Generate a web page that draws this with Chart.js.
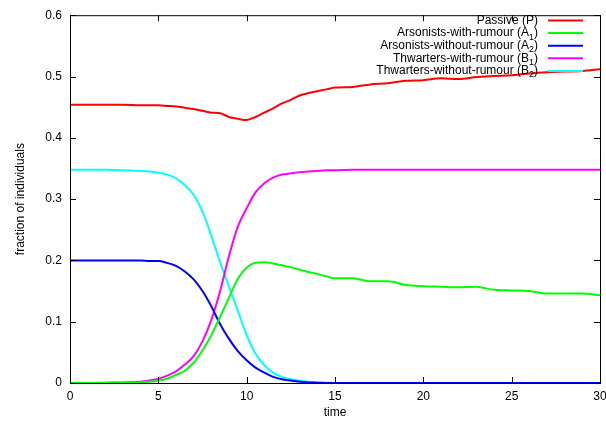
<!DOCTYPE html>
<html>
<head>
<meta charset="utf-8">
<script src="https://cdn.jsdelivr.net/npm/chart.js@4.4.1/dist/chart.umd.min.js"></script>
<style>
  html, body { margin: 0; padding: 0; background: #fff; }
  #wrap { width: 606px; height: 425px; }
</style>
</head>
<body>
<div id="wrap"><canvas id="rumourChart"></canvas></div>
<script>
// time points
const times = [0, 1, 2, 3, 4, 4.5, 5, 5.5, 6, 6.5, 7, 7.5, 8, 8.5, 9, 9.5, 10, 10.5, 11, 11.5,
  12, 12.5, 13, 13.5, 14, 14.5, 15, 16, 17, 18, 19, 20, 21, 22, 23, 24, 25, 26, 27, 28, 29, 30];

const passive = [0.454, 0.454, 0.454, 0.454, 0.453, 0.453, 0.453, 0.452, 0.451, 0.449, 0.447, 0.444,
  0.441, 0.440, 0.434, 0.431, 0.429, 0.434, 0.441, 0.448, 0.456, 0.462, 0.469, 0.473, 0.476, 0.479,
  0.482, 0.483, 0.487, 0.489, 0.493, 0.494, 0.497, 0.496, 0.499, 0.501, 0.502, 0.505, 0.507, 0.508,
  0.509, 0.512];
const arsonWith = [0, 0, 0, 0.0005, 0.001, 0.002, 0.004, 0.007, 0.013, 0.020, 0.033, 0.053, 0.078,
  0.108, 0.139, 0.170, 0.188, 0.196, 0.197, 0.195, 0.192, 0.189, 0.185, 0.181, 0.178, 0.174, 0.171,
  0.171, 0.166, 0.166, 0.160, 0.158, 0.157, 0.156, 0.157, 0.152, 0.151, 0.150, 0.146, 0.146, 0.146,
  0.143];
const arsonWithout = [0.200, 0.200, 0.200, 0.200, 0.200, 0.199, 0.199, 0.196, 0.191, 0.182, 0.169,
  0.150, 0.125, 0.096, 0.072, 0.052, 0.037, 0.025, 0.017, 0.010, 0.006, 0.004, 0.002, 0.001, 0.0005,
  0, 0, 0, 0, 0, 0, 0, 0, 0, 0, 0, 0, 0, 0, 0, 0, 0];
const thwartWith = [0, 0, 0.0005, 0.001, 0.002, 0.004, 0.007, 0.012, 0.019, 0.030, 0.044, 0.068,
  0.103, 0.150, 0.207, 0.255, 0.285, 0.311, 0.326, 0.335, 0.340, 0.342, 0.344, 0.345, 0.346, 0.347,
  0.347, 0.348, 0.348, 0.348, 0.348, 0.348, 0.348, 0.348, 0.348, 0.348, 0.348, 0.348, 0.348, 0.348,
  0.348, 0.348];
const thwartWithout = [0.348, 0.348, 0.348, 0.347, 0.346, 0.345, 0.343, 0.340, 0.334, 0.323, 0.307,
  0.280, 0.240, 0.197, 0.157, 0.118, 0.078, 0.048, 0.029, 0.017, 0.010, 0.006, 0.004, 0.002, 0.001,
  0.0005, 0, 0, 0, 0, 0, 0, 0, 0, 0, 0, 0, 0, 0, 0, 0, 0];

// "_n" marks a subscript in the key
const seriesNames = ['Passive (P)', 'Arsonists-with-rumour (A_1)', 'Arsonists-without-rumour (A_2)',
  'Thwarters-with-rumour (B_1)', 'Thwarters-without-rumour (B_2)'];
const seriesColors = ['#ff0000', '#00ff00', '#0000ff', '#ff00ff', '#00ffff'];
const seriesValues = [passive, arsonWith, arsonWithout, thwartWith, thwartWithout];

const FONT = "'Liberation Sans', Arial, Helvetica, sans-serif";

// gnuplot style frame with inward ticks on all four sides
const framePlugin = {
  id: 'frame',
  afterDraw(chart) {
    const { ctx, chartArea: a, scales } = chart;
    ctx.save();
    ctx.strokeStyle = '#000';
    ctx.lineWidth = 1;
    ctx.strokeRect(a.left + 0.5, a.top + 0.5, a.right - a.left, a.bottom - a.top);
    ctx.beginPath();
    scales.x.ticks.forEach(t => {
      const x = Math.round(scales.x.getPixelForValue(t.value)) + 0.5;
      ctx.moveTo(x, a.bottom); ctx.lineTo(x, a.bottom - 6);
      ctx.moveTo(x, a.top); ctx.lineTo(x, a.top + 6);
    });
    scales.y.ticks.forEach(t => {
      const y = Math.round(scales.y.getPixelForValue(t.value)) + 0.5;
      ctx.moveTo(a.left, y); ctx.lineTo(a.left + 6, y);
      ctx.moveTo(a.right, y); ctx.lineTo(a.right - 6, y);
    });
    ctx.stroke();
    ctx.restore();
  }
};

// key in the top right corner, text right aligned, line sample after it
const keyPlugin = {
  id: 'key',
  afterDatasetsDraw(chart) {
    const { ctx } = chart;
    const textRight = 538, lineX0 = 548, lineX1 = 583;
    ctx.save();
    chart.data.datasets.forEach((ds, i) => {
      const y = 20.5 + i * 12.6;
      const m = ds.label.match(/^(.*)_(\d)(.*)$/);
      const parts = m ? [[m[1], 12, 0], [m[2], 9, 4], [m[3], 12, 0]] : [[ds.label, 12, 0]];
      let x = textRight;
      ctx.fillStyle = '#000';
      ctx.textBaseline = 'middle';
      ctx.textAlign = 'left';
      for (let k = parts.length - 1; k >= 0; k--) {
        const [txt, size, dy] = parts[k];
        ctx.font = size + 'px ' + FONT;
        x -= ctx.measureText(txt).width;
        ctx.fillText(txt, x, y + dy);
      }
      ctx.strokeStyle = ds.borderColor;
      ctx.lineWidth = 2;
      ctx.beginPath();
      ctx.moveTo(lineX0, y);
      ctx.lineTo(lineX1, y);
      ctx.stroke();
    });
    ctx.restore();
  }
};

const datasets = seriesNames.map((name, i) => ({
  label: name,
  data: times.map((t, j) => ({ x: t, y: seriesValues[i][j] })),
  borderColor: seriesColors[i],
  borderWidth: 2,
  pointRadius: 0,
  fill: false,
  cubicInterpolationMode: 'monotone'
}));

const ctx = document.getElementById('rumourChart').getContext('2d');
const rumourChart = new Chart(ctx, {
  type: 'line',
  data: { datasets },
  options: {
    responsive: true,
    maintainAspectRatio: false,
    animation: false,
    layout: { padding: { top: 10, right: 6, left: 0, bottom: 0 } },
    plugins: {
      legend: { display: false },
      tooltip: { enabled: false }
    },
    scales: {
      x: {
        type: 'linear',
        min: 0,
        max: 30,
        grid: { display: false, drawTicks: false },
        border: { display: false },
        ticks: { stepSize: 5, maxRotation: 0, padding: 6, color: '#000', font: { family: FONT, size: 12 } },
        title: { display: true, text: 'time', color: '#000', font: { family: FONT, size: 12 }, padding: { top: 0, bottom: 5 } },
        afterFit(s) { s.height = 42; s.paddingLeft = 0; s.paddingRight = 0; }
      },
      y: {
        min: 0,
        max: 0.6,
        grid: { display: false, drawTicks: false },
        border: { display: false },
        ticks: { stepSize: 0.1, padding: 8, color: '#000', font: { family: FONT, size: 12 } },
        title: { display: true, text: 'fraction of individuals', color: '#000', font: { family: FONT, size: 12 }, padding: { top: 13, bottom: 0 } },
        afterFit(s) { s.width = 70; }
      }
    }
  },
  plugins: [framePlugin, keyPlugin]
});
</script>
</body>
</html>
